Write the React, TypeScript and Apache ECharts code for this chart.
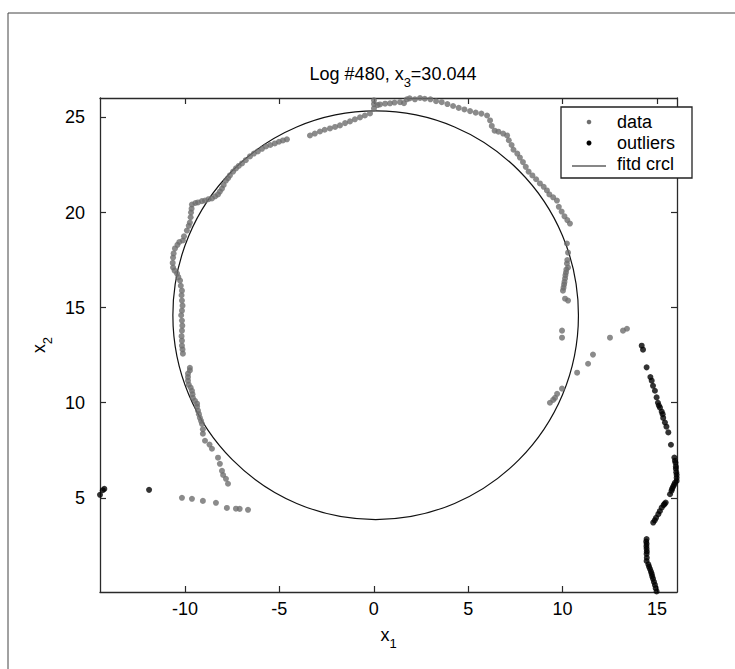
import React, { useEffect, useRef } from "react";
import * as echarts from "echarts";

const titleText = "Log #480, x{s|3}=30.044";
const xName = "x{s|1}";
const yName = "x{s|2}";
const xTicks = [-10, -5, 0, 5, 10, 15];
const yTicks = [5, 10, 15, 20, 25];
const xRange = [-14.5, 16.06];
const yRange = [0.05, 26.02];
const legendLabels = ["data", "outliers", "fitd crcl"];

// fitted circle: [centerX, centerY, radius]
const fittedCircle = [0.1, 14.6, 10.74];

const dataPoints: number[][] = [
  // lower-left tail
  [-7.72, 5.74], [-7.83, 6.0], [-7.98, 6.2], [-8.04, 6.42], [-8.15, 6.79], [-8.25, 7.11],
  [-8.57, 7.58], [-8.7, 7.8], [-8.94, 8.0], [-9.05, 8.37], [-9.05, 8.6], [-9.1, 8.89],
  [-9.15, 9.05], [-9.21, 9.21], [-9.26, 9.4], [-9.31, 9.58], [-9.36, 9.8], [-9.36, 9.95],
  [-9.47, 10.1], [-9.58, 10.26], [-9.6, 10.45], [-9.63, 10.63], [-9.7, 10.8], [-9.8, 10.95],
  [-9.84, 11.16], [-9.84, 11.35], [-9.84, 11.53], [-9.74, 11.7], [-9.74, 11.84],
  // left column
  [-10.11, 12.58], [-10.13, 12.8], [-10.16, 13.0], [-10.16, 13.26], [-10.18, 13.5], [-10.16, 13.79],
  [-10.14, 14.05], [-10.16, 14.32], [-10.2, 14.6], [-10.16, 14.84], [-10.13, 15.1], [-10.16, 15.37],
  [-10.18, 15.65], [-10.16, 15.89], [-10.22, 16.15], [-10.26, 16.42], [-10.35, 16.6], [-10.42, 16.79],
  [-10.55, 16.95], [-10.63, 17.11], [-10.65, 17.35], [-10.63, 17.63], [-10.6, 17.85], [-10.53, 18.11],
  [-10.4, 18.3], [-10.3, 18.45], [-10.11, 18.53], [-10.05, 18.75],
  // upper-left arc
  [-9.9, 19.05], [-9.8, 19.3], [-9.74, 19.47], [-9.7, 19.75], [-9.68, 20.0], [-9.65, 20.2],
  [-9.63, 20.42], [-9.45, 20.5], [-9.31, 20.53], [-9.1, 20.6], [-8.94, 20.63], [-8.75, 20.7],
  [-8.57, 20.74], [-8.4, 20.85], [-8.25, 20.95], [-8.15, 21.1], [-8.04, 21.26], [-7.95, 21.45],
  [-7.83, 21.68], [-7.72, 21.8], [-7.62, 21.95], [-7.45, 22.15], [-7.3, 22.32], [-7.15, 22.45],
  [-6.98, 22.58], [-6.78, 22.75], [-6.56, 22.95], [-6.35, 23.1], [-6.14, 23.21], [-5.92, 23.35],
  [-5.71, 23.47], [-5.48, 23.55], [-5.24, 23.63], [-5.02, 23.72], [-4.81, 23.79], [-4.6, 23.85],
  // upper arc
  [-3.38, 24.05], [-3.12, 24.15], [-2.85, 24.26], [-2.6, 24.35], [-2.32, 24.42], [-2.05, 24.5],
  [-1.79, 24.58], [-1.52, 24.7], [-1.26, 24.79], [-1.0, 24.9], [-0.73, 25.0], [-0.47, 25.1],
  [-0.2, 25.21], [0.01, 25.47], [0.01, 25.7], [0.01, 25.9], [0.2, 25.65], [0.33, 25.68],
  [0.6, 25.72], [0.86, 25.74], [1.1, 25.78], [1.39, 25.8], [1.6, 25.75], [1.75, 25.95],
  [1.9, 26.0], [2.18, 25.95], [2.45, 26.02], [2.7, 25.98], [3.0, 25.95], [3.3, 25.85],
  [3.6, 25.8], [3.9, 25.7], [4.2, 25.6], [4.5, 25.5], [4.8, 25.42], [5.1, 25.33],
  [5.4, 25.25], [5.7, 25.2], [6.0, 25.1], [6.16, 24.84], [6.25, 24.55], [6.4, 24.3],
  [6.6, 24.25], [6.85, 24.15], [7.06, 24.05], [7.15, 23.8], [7.3, 23.55], [7.4, 23.3],
  [7.6, 23.1], [7.74, 22.89], [7.9, 22.65], [8.05, 22.4], [8.2, 22.15], [8.4, 21.95],
  [8.6, 21.75], [8.8, 21.53], [9.0, 21.35], [9.17, 21.16], [9.3, 20.95], [9.5, 20.8],
  [9.7, 20.63], [9.8, 20.3], [9.95, 20.05], [10.1, 19.8], [10.25, 19.6], [10.39, 19.42],
  // right column
  [10.23, 18.37], [10.29, 17.89], [10.25, 17.5], [10.23, 17.32], [10.29, 17.11], [10.2, 17.0],
  [10.18, 16.84], [10.15, 16.7], [10.13, 16.53], [10.1, 16.35], [10.08, 16.21], [10.05, 16.05],
  [10.02, 15.89], [10.13, 15.47], [10.29, 15.37],
  // scattered right
  [9.97, 13.79], [9.97, 13.42], [12.51, 13.42], [13.2, 13.79], [13.41, 13.89], [11.61, 12.53],
  [11.35, 12.05], [10.77, 11.58], [9.97, 10.74], [9.71, 10.47], [9.6, 10.26], [9.5, 10.15],
  [9.33, 10.0],
  // bottom-left row
  [-10.16, 5.0], [-9.63, 4.95], [-9.05, 4.84], [-8.36, 4.74], [-7.78, 4.47], [-7.3, 4.43],
  [-7.1, 4.42], [-6.66, 4.37],
];

const outlierPoints: number[][] = [
  [-14.5, 5.16], [-14.35, 5.4], [-14.27, 5.47], [-11.9, 5.42],
  [14.19, 13.0], [14.26, 12.79], [14.45, 11.86], [14.65, 11.35], [14.72, 11.16], [14.79, 10.89],
  [14.89, 10.63], [14.98, 10.28], [15.05, 10.0], [15.1, 9.85], [15.16, 9.74], [15.25, 9.53],
  [15.3, 9.4], [15.33, 9.2], [15.42, 8.96], [15.5, 8.74], [15.6, 8.44], [15.74, 7.79],
  [15.92, 7.12], [15.95, 6.95], [15.98, 6.84], [16.0, 6.65], [16.0, 6.53], [16.02, 6.35],
  [16.04, 6.21], [16.04, 6.05], [16.04, 5.89], [15.95, 5.79], [15.9, 5.68], [15.85, 5.58],
  [15.8, 5.47], [15.77, 5.37], [15.69, 5.19], [15.46, 4.75], [15.4, 4.68], [15.35, 4.62],
  [15.25, 4.49], [15.15, 4.3], [15.07, 4.14], [14.95, 3.95], [14.88, 3.82], [14.8, 3.7],
  [14.45, 2.83], [14.43, 2.7], [14.45, 2.58], [14.44, 2.45], [14.45, 2.32], [14.46, 2.18],
  [14.45, 2.05], [14.46, 1.85], [14.45, 1.68], [14.54, 1.51], [14.58, 1.38], [14.63, 1.26],
  [14.68, 1.12], [14.72, 1.0], [14.75, 0.87], [14.79, 0.74], [14.84, 0.58], [14.89, 0.42],
  [14.93, 0.25], [14.98, 0.08],
];

const FONT = "Liberation Sans";
const TEXT = "#000";
const AXIS = "#2a2a2a";
const GRAY = "#6e6e6e";

export default function App() {
  const ref = useRef<HTMLDivElement>(null);
  useEffect(() => {
    if (!ref.current) return;
    const chart = echarts.init(ref.current, null, { renderer: "svg" });
    const sub = { fontSize: 13, lineHeight: 30, verticalAlign: "bottom", fontFamily: FONT, color: TEXT };
    const axisCommon = (pos: string, show: boolean, ticks: number[], margin: number) => ({
      type: "value",
      position: pos,
      axisLine: { show: true, onZero: false, lineStyle: { color: AXIS, width: 1.3 } },
      axisTick: { show: true, inside: true, length: 6, lineStyle: { color: AXIS, width: 1.2 }, customValues: ticks },
      axisLabel: {
        show,
        customValues: ticks,
        fontSize: 18,
        fontFamily: FONT,
        color: TEXT,
        margin,
      },
      splitLine: { show: false },
    });
    const option: any = {
      animation: false,
      backgroundColor: "#fff",
      title: {
        text: titleText,
        left: 388,
        textAlign: "center",
        top: 54,
        textStyle: {
          fontSize: 18,
          fontWeight: "normal",
          fontFamily: FONT,
          color: TEXT,
          rich: { s: sub },
        },
      },
      grid: { left: 100, right: 58, top: 98, bottom: 77 },
      xAxis: [
        {
          ...axisCommon("bottom", true, xTicks, 8),
          min: xRange[0],
          max: xRange[1],
          name: xName,
          nameLocation: "middle",
          nameGap: 28,
          nameTextStyle: { fontSize: 18, fontFamily: FONT, color: TEXT, rich: { s: sub } },
        },
        { ...axisCommon("top", false, xTicks, 8), min: xRange[0], max: xRange[1] },
      ],
      yAxis: [
        {
          ...axisCommon("left", true, yTicks, 15),
          min: yRange[0],
          max: yRange[1],
          name: yName,
          nameLocation: "middle",
          nameGap: 46,
          nameRotate: 90,
          nameTextStyle: { fontSize: 18, fontFamily: FONT, color: TEXT, rich: { s: sub } },
        },
        { ...axisCommon("right", false, yTicks, 8), min: yRange[0], max: yRange[1] },
      ],
      series: [
        {
          name: legendLabels[0],
          type: "scatter",
          data: dataPoints,
          symbol: "circle",
          symbolSize: 6,
          itemStyle: { color: GRAY },
          silent: true,
        },
        {
          name: legendLabels[1],
          type: "scatter",
          data: outlierPoints,
          symbol: "circle",
          symbolSize: 6,
          itemStyle: { color: "#000" },
          silent: true,
        },
        {
          name: legendLabels[2],
          type: "custom",
          data: [fittedCircle],
          encode: { x: 0, y: 1 },
          silent: true,
          renderItem: (_params: any, api: any) => {
            const c = api.coord([api.value(0), api.value(1)]);
            const r = api.value(2);
            const rx = api.size([r, 0])[0];
            const ry = api.size([0, r])[1];
            return {
              type: "ellipse",
              shape: { cx: c[0], cy: c[1], rx, ry },
              style: { fill: "none", stroke: "#111", lineWidth: 1.2 },
            };
          },
        },
      ],
      graphic: [
        { type: "line", shape: { x1: 8, y1: 13, x2: 735, y2: 13 }, style: { stroke: "#444", lineWidth: 1 } },
        { type: "line", shape: { x1: 8, y1: 13, x2: 8, y2: 669 }, style: { stroke: "#444", lineWidth: 1 } },
        {
          type: "rect",
          shape: { x: 561, y: 107, width: 131, height: 71 },
          style: { fill: "#fff", stroke: "#222", lineWidth: 1.3 },
          z: 100,
        },
        { type: "circle", shape: { cx: 589, cy: 122, r: 2.3 }, style: { fill: GRAY }, z: 101 },
        { type: "circle", shape: { cx: 589, cy: 143, r: 2.5 }, style: { fill: "#000" }, z: 101 },
        { type: "line", shape: { x1: 572, y1: 166, x2: 606, y2: 166 }, style: { stroke: "#111", lineWidth: 1.2 }, z: 101 },
        ...legendLabels.map((t, i) => ({
          type: "text",
          x: 617,
          y: 122 + i * 21,
          z: 101,
          style: { text: t, fontSize: 18, fontFamily: FONT, fill: TEXT, verticalAlign: "middle" },
        })),
      ],
    };
    chart.setOption(option);
    return () => chart.dispose();
  }, []);
  return <div ref={ref} style={{ position: "fixed", left: 0, top: 0, width: 735, height: 669 }} />;
}
